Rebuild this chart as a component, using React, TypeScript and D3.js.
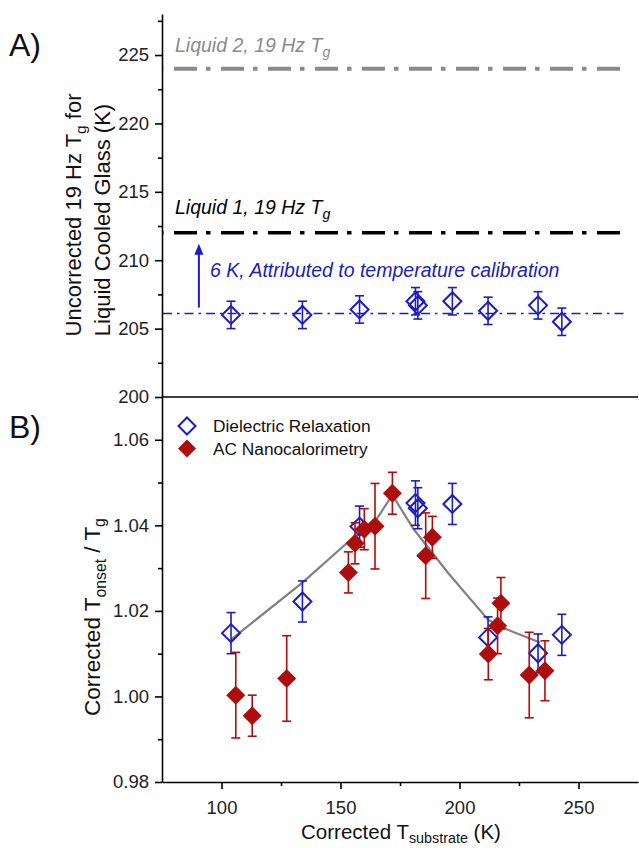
import React, { useRef, useEffect } from 'react';
import * as d3 from 'd3';

const W = 639;
const H = 848;
const LEFT = 162;
const RIGHT = 638;
const TOP_A = 14;
const SPLIT = 397;
const BOTTOM_B = 782;

// Panel A: dielectric Tg (uncorrected)
const DR_X = [104, 134, 158, 181.5, 182.5, 197, 212, 233, 243];
const TG_A = [206.0, 206.0, 206.4, 207.0, 206.7, 207.0, 206.3, 206.7, 205.5];
const TG_A_ERR = [1, 1, 1, 1, 1, 1, 1, 1, 1];

const LIQ1_TG = 212;
const LIQ2_TG = 224;
const DR_MEAN_TG = 206.1;

// Panel B: Tonset / Tg
const DR_RATIO = [1.0148, 1.0222, 1.0397, 1.0452, 1.044, 1.045, 1.0138, 1.0101, 1.0144];
const DR_RATIO_ERR = [0.0048, 0.0048, 0.0048, 0.0052, 0.0048, 0.0048, 0.0048, 0.0045, 0.0048];

const AC_X = [106, 112.9, 127.4, 153.3, 156.1, 160, 164.5, 171.8, 185.8, 188.6, 212.1, 216, 217.4, 229.3, 235.9];
const AC_RATIO = [1.0003, 0.9955, 1.0042, 1.029, 1.0358, 1.0391, 1.0398, 1.0475, 1.0329, 1.0372, 1.0099, 1.0165, 1.0218, 1.005, 1.006];
const AC_ERR = [0.01, 0.0048, 0.01, 0.0048, 0.0048, 0.0048, 0.01, 0.0049, 0.01, 0.0049, 0.006, 0.0065, 0.006, 0.01, 0.007];

const AVG_X = [104, 134, 152.6, 164.5, 171.8, 180.6, 195.3, 212.1, 219.8, 233.8];
const AVG_Y = [1.0133, 1.0266, 1.0358, 1.0409, 1.0471, 1.0392, 1.0288, 1.0179, 1.0157, 1.0126];

const X_TICKS = [100, 150, 200, 250];
const X_MINOR = [125, 175, 225];
const A_TICKS = [200, 205, 210, 215, 220, 225];
const A_MINOR = [202.5, 207.5, 212.5, 217.5, 222.5, 227.5];
const B_TICKS = [0.98, 1.0, 1.02, 1.04, 1.06];
const B_MINOR = [0.99, 1.01, 1.03, 1.05];

const BLUE = '#1c1cc0';
const RED = '#ad0d0d';
const FONT = '"Liberation Sans", Arial, sans-serif';

export default function App() {
  const ref = useRef<SVGSVGElement>(null);

  useEffect(() => {
    const svg = d3.select(ref.current);
    svg.selectAll('*').remove();
    svg.attr('font-family', FONT);

    const x = d3.scaleLinear().domain([75, 275]).range([LEFT, RIGHT]);
    const yA = d3.scaleLinear().domain([200, 228]).range([SPLIT, TOP_A]);
    const yB = d3.scaleLinear().domain([0.98, 1.07]).range([BOTTOM_B, SPLIT]);

    const styleAxis = (a: any) => {
      a.selectAll('path, line').attr('stroke', '#000').attr('stroke-width', 1.6);
      a.selectAll('text').attr('font-size', 18.5).attr('fill', '#222').attr('font-family', FONT);
    };

    // ---- axes
    const xAxis = svg.append('g').attr('transform', `translate(0,${BOTTOM_B})`)
      .call(d3.axisBottom(x).tickValues(X_TICKS).tickSize(7).tickSizeOuter(0).tickPadding(7))
      .call(styleAxis);
    xAxis.selectAll('text').attr('dy', '0.95em');
    svg.append('g').attr('transform', `translate(0,${BOTTOM_B})`)
      .call(d3.axisBottom(x).tickValues(X_MINOR).tickSize(4).tickFormat(() => ''))
      .call(styleAxis).select('.domain').remove();

    // top panel bottom border
    svg.append('line').attr('x1', LEFT).attr('x2', RIGHT).attr('y1', SPLIT).attr('y2', SPLIT)
      .attr('stroke', '#000').attr('stroke-width', 1.6);

    svg.append('g').attr('transform', `translate(${LEFT},0)`)
      .call(d3.axisLeft(yA).tickValues(A_TICKS).tickSize(7).tickSizeOuter(0).tickPadding(6).tickFormat(d3.format('d')))
      .call(styleAxis);
    svg.append('g').attr('transform', `translate(${LEFT},0)`)
      .call(d3.axisLeft(yA).tickValues(A_MINOR).tickSize(4).tickFormat(() => ''))
      .call(styleAxis).select('.domain').remove();

    svg.append('g').attr('transform', `translate(${LEFT},0)`)
      .call(d3.axisLeft(yB).tickValues(B_TICKS).tickSize(7).tickSizeOuter(0).tickPadding(6).tickFormat(d3.format('.2f')))
      .call(styleAxis);
    svg.append('g').attr('transform', `translate(${LEFT},0)`)
      .call(d3.axisLeft(yB).tickValues(B_MINOR).tickSize(4).tickFormat(() => ''))
      .call(styleAxis).select('.domain').remove();

    // ---- panel A reference lines
    const hline = (v: number, color: string, w: number, dash: string, off: number) =>
      svg.append('line')
        .attr('x1', LEFT + 1).attr('x2', x(271)).attr('y1', yA(v)).attr('y2', yA(v))
        .attr('stroke', color).attr('stroke-width', w)
        .attr('stroke-dasharray', dash).attr('stroke-dashoffset', off);
    hline(LIQ2_TG, '#8a8a8a', 4, '23,9,4.5,10.5', 36);
    hline(LIQ1_TG, '#000', 3.5, '23,9,4.5,10.5', 36);
    hline(DR_MEAN_TG, BLUE, 1.5, '9,5,2.5,5', 0);

    const sub = (t: any, main: string, s: string) => {
      t.append('tspan').text(main);
      t.append('tspan').attr('font-size', '0.72em').attr('dy', '0.35em').text(s);
    };

    const l2 = svg.append('text').attr('x', 175).attr('y', 52).attr('font-size', 19.5)
      .attr('font-style', 'italic').attr('fill', '#8a8a8a');
    sub(l2, 'Liquid 2, 19 Hz T', 'g');
    const l1 = svg.append('text').attr('x', 175).attr('y', 214).attr('font-size', 19.5)
      .attr('font-style', 'italic').attr('fill', '#000');
    sub(l1, 'Liquid 1, 19 Hz T', 'g');

    // calibration arrow
    const ax = x(90.5);
    svg.append('line').attr('x1', ax).attr('x2', ax).attr('y1', yA(DR_MEAN_TG) - 6).attr('y2', yA(LIQ1_TG) + 20)
      .attr('stroke', BLUE).attr('stroke-width', 2);
    const tip = yA(LIQ1_TG) + 11;
    svg.append('path').attr('d', `M${ax},${tip} L${ax - 4.5},${tip + 11} L${ax + 4.5},${tip + 11} Z`).attr('fill', BLUE);
    svg.append('text').attr('x', 210).attr('y', 277).attr('font-size', 19.5).attr('font-style', 'italic')
      .attr('fill', BLUE).text('6 K, Attributed to temperature calibration');

    const diamond = (cx: number, cy: number, r: number) =>
      `M${cx},${cy - r} L${cx + r},${cy} L${cx},${cy + r} L${cx - r},${cy} Z`;

    const errBar = (g: any, cx: number, y1: number, y2: number, color: string) => {
      g.append('line').attr('x1', cx).attr('x2', cx).attr('y1', y1).attr('y2', y2)
        .attr('stroke', color).attr('stroke-width', 1.6);
      [y1, y2].forEach(yy => g.append('line').attr('x1', cx - 4.5).attr('x2', cx + 4.5)
        .attr('y1', yy).attr('y2', yy).attr('stroke', color).attr('stroke-width', 1.6));
    };

    // panel A points
    const gA = svg.append('g');
    DR_X.forEach((xv, i) => {
      errBar(gA, x(xv), yA(TG_A[i] + TG_A_ERR[i]), yA(TG_A[i] - TG_A_ERR[i]), BLUE);
    });
    DR_X.forEach((xv, i) => {
      gA.append('path').attr('d', diamond(x(xv), yA(TG_A[i]), 9))
        .attr('fill', 'none').attr('stroke', BLUE).attr('stroke-width', 2);
    });

    // ---- panel B
    const gB = svg.append('g');
    const line = d3.line<number>().x((d, i) => x(AVG_X[i])).y(d => yB(d));
    gB.append('path').attr('d', line(AVG_Y)).attr('fill', 'none')
      .attr('stroke', '#808080').attr('stroke-width', 2.2);

    DR_X.forEach((xv, i) => {
      errBar(gB, x(xv), yB(DR_RATIO[i] + DR_RATIO_ERR[i]), yB(DR_RATIO[i] - DR_RATIO_ERR[i]), BLUE);
      gB.append('path').attr('d', diamond(x(xv), yB(DR_RATIO[i]), 9))
        .attr('fill', 'none').attr('stroke', BLUE).attr('stroke-width', 2);
    });
    AC_X.forEach((xv, i) => {
      errBar(gB, x(xv), yB(AC_RATIO[i] + AC_ERR[i]), yB(AC_RATIO[i] - AC_ERR[i]), RED);
    });
    AC_X.forEach((xv, i) => {
      gB.append('path').attr('d', diamond(x(xv), yB(AC_RATIO[i]), 9.5)).attr('fill', RED);
    });

    // legend
    svg.append('path').attr('d', diamond(187, 426, 8.5)).attr('fill', 'none')
      .attr('stroke', BLUE).attr('stroke-width', 2);
    svg.append('text').attr('x', 213).attr('y', 432).attr('font-size', 17.3).attr('fill', '#111')
      .text('Dielectric Relaxation');
    svg.append('path').attr('d', diamond(187, 448.5, 9)).attr('fill', RED);
    svg.append('text').attr('x', 213).attr('y', 454.5).attr('font-size', 17.3).attr('fill', '#111')
      .text('AC Nanocalorimetry');

    // panel letters
    svg.append('text').attr('x', 9).attr('y', 56).attr('font-size', 32).attr('fill', '#111').text('A)');
    svg.append('text').attr('x', 9).attr('y', 438).attr('font-size', 32).attr('fill', '#111').text('B)');

    // axis titles
    const tA = svg.append('text').attr('transform', `translate(81,215) rotate(-90)`)
      .attr('text-anchor', 'middle').attr('font-size', 22).attr('fill', '#111');
    tA.append('tspan').text('Uncorrected 19 Hz T');
    tA.append('tspan').attr('font-size', '0.7em').attr('dy', '0.35em').text('g');
    tA.append('tspan').attr('dy', '-0.25em').text(' for');
    svg.append('text').attr('transform', `translate(110,220) rotate(-90)`)
      .attr('text-anchor', 'middle').attr('font-size', 22).attr('fill', '#111')
      .text('Liquid Cooled Glass (K)');

    const tB = svg.append('text').attr('transform', `translate(100,617) rotate(-90)`)
      .attr('text-anchor', 'middle').attr('font-size', 22.5).attr('fill', '#111');
    tB.append('tspan').text('Corrected T');
    tB.append('tspan').attr('font-size', '0.7em').attr('dy', '0.35em').text('onset');
    tB.append('tspan').attr('dy', '-0.25em').text(' / T');
    tB.append('tspan').attr('font-size', '0.7em').attr('dy', '0.35em').text('g');

    const tX = svg.append('text').attr('x', 401).attr('y', 839).attr('text-anchor', 'middle')
      .attr('font-size', 20.5).attr('fill', '#111');
    tX.append('tspan').text('Corrected T');
    tX.append('tspan').attr('font-size', '0.7em').attr('dy', '0.25em').text('substrate');
    tX.append('tspan').attr('dy', '-0.18em').text(' (K)');
  }, []);

  return (
    <svg ref={ref} width={W} height={H}
      style={{ position: 'absolute', left: 0, top: 0, display: 'block', background: '#fff' }} />
  );
}
